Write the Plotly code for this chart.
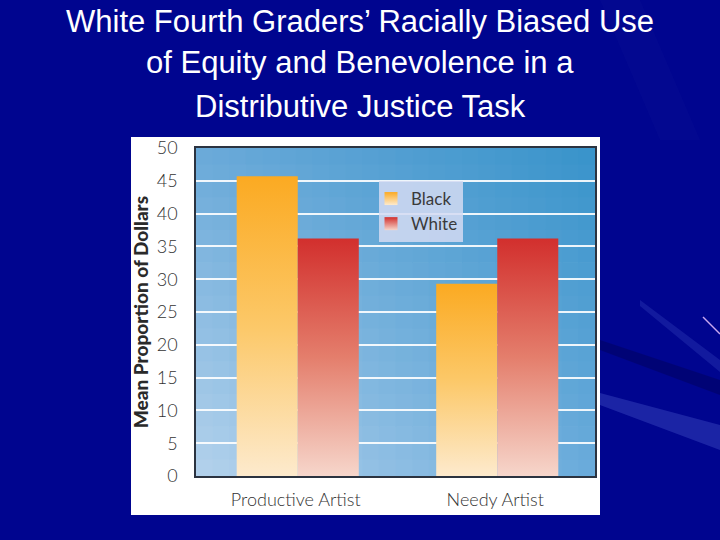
import plotly.graph_objects as go

# ---- data ----
categories = ["Productive Artist", "Needy Artist"]
series_names = ["Black", "White"]
black_values = [45.7, 29.3]
white_values = [36.2, 36.2]
y_ticks = [0, 5, 10, 15, 20, 25, 30, 35, 40, 45, 50]
title_lines = ["White Fourth Graders’ Racially Biased Use",
               "of Equity and Benevolence in a",
               "Distributive Justice Task"]

W, H = 720, 540
L, R, T, B = 196, 595, 148, 476  # plot area in pixels
SLIDE_BG = "#00058f"


def px(q):
    return (q - L) / (R - L)


def py(p):
    return (B - p) / (B - T)


fig = go.Figure()

bar_w = 0.306
styles = {
    "Black": dict(bottom="#fdeacd", mid="#fcc868", top="#fbaa22"),
    "White": dict(bottom="#f6d6cb", mid="#e47e6c", top="#d22f2d"),
}
for s_idx, (name, vals) in enumerate(zip(series_names, [black_values, white_values])):
    st = styles[name]
    for i, v in enumerate(vals):
        x0 = i - bar_w + s_idx * bar_w + 0.01
        x1 = x0 + bar_w
        fig.add_trace(go.Scatter(
            x=[x0, x0, x1, x1, x0], y=[0, v, v, 0, 0],
            mode="lines", fill="toself",
            line=dict(width=0, color=st["top"]),
            fillgradient=dict(type="vertical",
                              colorscale=[[0, st["bottom"]], [0.5, st["mid"]], [1, st["top"]]]),
            name=name, legendgroup=name, showlegend=False,
            hoverinfo="text", text=f"{categories[i]}: {v}",
        ))
    # legend swatch
    fig.add_trace(go.Scatter(
        x=[None], y=[None], mode="markers", name=name, legendgroup=name,
        marker=dict(symbol="square", size=13, color=st["top"], line=dict(width=0),
                    gradient=dict(type="vertical", color=st["bottom"])),
    ))

shapes = []


def path_from(points):
    return "M " + " L ".join(f"{px(x):.4f},{py(y):.4f}" for x, y in points) + " Z"


# decorative rays on slide background
shapes.append(dict(type="path", xref="paper", yref="paper", layer="below",
                   path=path_from([(600, 393), (720, 425), (720, 450), (600, 405)]),
                   fillcolor="rgba(90,110,220,0.30)", line=dict(width=0)))
shapes.append(dict(type="path", xref="paper", yref="paper", layer="below",
                   path=path_from([(600, 340), (720, 380), (720, 395), (600, 350)]),
                   fillcolor="rgba(0,0,60,0.30)", line=dict(width=0)))
shapes.append(dict(type="path", xref="paper", yref="paper", layer="below",
                   path=path_from([(640, 300), (720, 360), (720, 372), (640, 306)]),
                   fillcolor="rgba(90,110,220,0.20)", line=dict(width=0)))
shapes.append(dict(type="path", xref="paper", yref="paper", layer="below",
                   path=path_from([(600, 0), (640, 0), (700, 140), (660, 140)]),
                   fillcolor="rgba(40,60,170,0.07)", line=dict(width=0)))
shapes.append(dict(type="line", xref="paper", yref="paper", layer="below",
                   x0=px(703), y0=py(317), x1=px(720), y1=py(334),
                   line=dict(color="#c9a8f0", width=1.5)))

# white panel
shapes.append(dict(type="rect", xref="paper", yref="paper", layer="below",
                   x0=px(131), x1=px(600), y0=py(515), y1=py(137),
                   fillcolor="white", line=dict(width=0)))


def hex2rgb(h):
    h = h.lstrip("#")
    return [int(h[i:i + 2], 16) for i in (0, 2, 4)]


# plot-area diagonal gradient via grid of cells
tl, tr, bl, br = map(hex2rgb, ["#6aa9d9", "#3893ca", "#b4d2ec", "#6aabdb"])
NX, NY = 24, 20
for ix in range(NX):
    for iy in range(NY):
        u = (ix + 0.5) / NX
        w = (iy + 0.5) / NY
        c = [round((1 - u) * (1 - w) * bl[k] + u * (1 - w) * br[k] + (1 - u) * w * tl[k] + u * w * tr[k]) for k in range(3)]
        shapes.append(dict(type="rect", xref="paper", yref="paper", layer="below",
                           x0=ix / NX, x1=(ix + 1) / NX + 0.002,
                           y0=iy / NY, y1=(iy + 1) / NY + 0.002,
                           fillcolor=f"rgb({c[0]},{c[1]},{c[2]})", line=dict(width=0)))

annotations = []
for line, p in zip(title_lines, [21, 62, 106]):
    annotations.append(dict(text=line, xref="paper", yref="paper", x=px(360), y=py(p),
                            xanchor="center", yanchor="middle", showarrow=False,
                            font=dict(family="Liberation Sans, Arial", size=31, color="white")))

fig.update_layout(
    width=W, height=H,
    margin=dict(l=L, r=W - R, t=T, b=H - B, pad=0),
    paper_bgcolor=SLIDE_BG,
    plot_bgcolor="rgba(0,0,0,0)",
    shapes=shapes,
    annotations=annotations,
    showlegend=True,
    legend=dict(x=px(379), y=py(181), xanchor="left", yanchor="top",
                bgcolor="rgba(212,218,242,0.85)", borderwidth=0,
                font=dict(family="Lato", size=17, color="#3a3a3a"),
                itemwidth=30, tracegroupgap=0, indentation=-8),
    xaxis=dict(range=[-0.5, 1.5], tickvals=[0, 1], ticktext=categories,
               showgrid=False, zeroline=False,
               showline=True, mirror=True, linecolor="#2b3340", linewidth=1.5,
               ticks="outside", ticklen=7, tickcolor="rgba(0,0,0,0)",
               tickfont=dict(family="Lato", size=18, color="#333333", weight=300)),
    yaxis=dict(range=[0, 50], tickvals=y_ticks,
               showgrid=True, gridcolor="rgba(255,255,255,0.9)", gridwidth=1.5,
               zeroline=False,
               showline=True, mirror=True, linecolor="#2b3340", linewidth=1.5,
               ticks="outside", ticklen=13, tickcolor="rgba(0,0,0,0)",
               tickfont=dict(family="Lato", size=18, color="#333333", weight=300),
               title=dict(text="Mean Proportion of Dollars", standoff=3,
                          font=dict(family="Lato", size=19, color="#2a2a2a", weight=900))),
)

fig.write_html("out.html", config={"displayModeBar": False},
               post_script=f"document.body.style.margin='0';document.body.style.background='{SLIDE_BG}';")
